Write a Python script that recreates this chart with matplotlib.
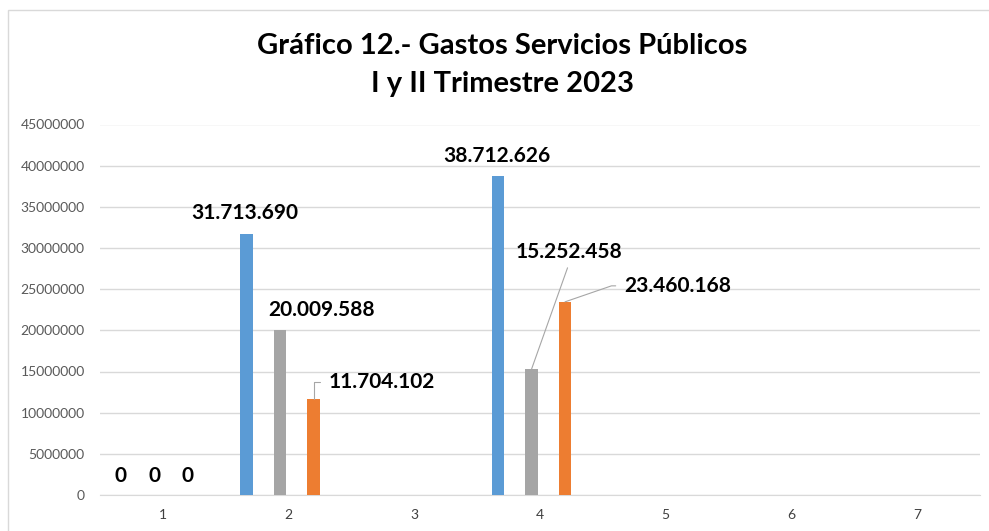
import matplotlib.pyplot as plt
import numpy as np
from matplotlib.patches import Rectangle

# datos
categorias = ['1', '2', '3', '4', '5', '6', '7']
serie_a = [0, 31713690, np.nan, 38712626, np.nan, np.nan, np.nan]
serie_b = [0, 20009588, np.nan, 15252458, np.nan, np.nan, np.nan]
serie_c = [0, 11704102, np.nan, 23460168, np.nan, np.nan, np.nan]
titulo = 'Gráfico 12.- Gastos Servicios Públicos\nI y II Trimestre 2023'

colores = ['#5B9BD5', '#A5A5A5', '#ED7D31']
desplaz = [-0.334, -0.068, 0.199]
ancho = 0.103


def fmt(v):
    return f'{int(v):,}'.replace(',', '.')


plt.rcParams['font.family'] = ['Lato', 'DejaVu Sans']

fig = plt.figure(figsize=(9.89, 5.31), dpi=100)
ax = fig.add_axes([100 / 989, 1 - 495 / 531, 880 / 989, (495 - 124.5) / 531])

x = np.arange(len(categorias))
series = [serie_a, serie_b, serie_c]
barras = []
for vals, col, d in zip(series, colores, desplaz):
    barras.append(ax.bar(x + d, vals, ancho, color=col, zorder=3))

ax.set_xlim(-0.5, len(categorias) - 0.5)
ax.set_ylim(0, 45000000)
ax.set_yticks(np.arange(0, 45000001, 5000000))
ax.set_yticklabels([str(v) for v in range(0, 45000001, 5000000)])
ax.set_xticks(x)
ax.set_xticklabels(categorias)
ax.tick_params(axis='y', length=0, pad=11, labelsize=10, labelcolor='#595959')
ax.tick_params(axis='x', length=0, pad=10, labelsize=10, labelcolor='#404040')
ax.grid(axis='y', color='#D9D9D9', lw=1, zorder=0)
for s in ['left', 'right', 'top']:
    ax.spines[s].set_visible(False)
ax.spines['bottom'].set_color('#D9D9D9')

lbl = dict(fontsize=15, fontweight='bold', color='black', textcoords='offset pixels')
linea = dict(arrowstyle='-', color='#A6A6A6', lw=0.8, shrinkB=0)

# etiquetas en cero
for vals, d in zip(series, desplaz):
    ax.annotate(fmt(vals[0]), (x[0] + d, vals[0]), xytext=(0, 19),
                ha='center', va='center', **lbl)

# categoria 2
ax.annotate(fmt(serie_a[1]), (x[1] + desplaz[0], serie_a[1]), xytext=(-2, 21),
            ha='center', va='center', **lbl)
ax.annotate(fmt(serie_b[1]), (x[1] + desplaz[1], serie_b[1]), xytext=(42, 20),
            ha='center', va='center', **lbl)
ax.annotate(fmt(serie_c[1]), (x[1] + desplaz[2], serie_c[1]), xytext=(15, 17),
            ha='left', va='center',
            arrowprops=dict(connectionstyle='angle,angleA=0,angleB=90,rad=0',
                            relpos=(0, 0.5), shrinkA=4, **linea), **lbl)

# categoria 4
ax.annotate(fmt(serie_a[3]), (x[3] + desplaz[0], serie_a[3]), xytext=(-1, 20),
            ha='center', va='center', **lbl)
ax.annotate(fmt(serie_b[3]), (x[3] + desplaz[1], serie_b[3]), xytext=(38, 117),
            ha='center', va='center',
            arrowprops=dict(relpos=(0.5, 0), shrinkA=2, **linea), **lbl)
ax.annotate(fmt(serie_c[3]), (x[3] + desplaz[2], serie_c[3]), xytext=(59, 16),
            ha='left', va='center',
            arrowprops=dict(connectionstyle='angle,angleA=0,angleB=19,rad=0',
                            relpos=(0, 0.5), shrinkA=4, **linea), **lbl)

fig.text(0.508, 1 - 65 / 531, titulo, ha='center', va='center', fontsize=21,
         fontweight='bold', color='black', linespacing=1.55)

fig.patches.append(Rectangle((8 / 989, -0.1), 1.2, 1.1 - 10 / 531, transform=fig.transFigure,
                             fill=False, edgecolor='#D9D9D9', lw=1))

fig.savefig('out.png', dpi=100)
